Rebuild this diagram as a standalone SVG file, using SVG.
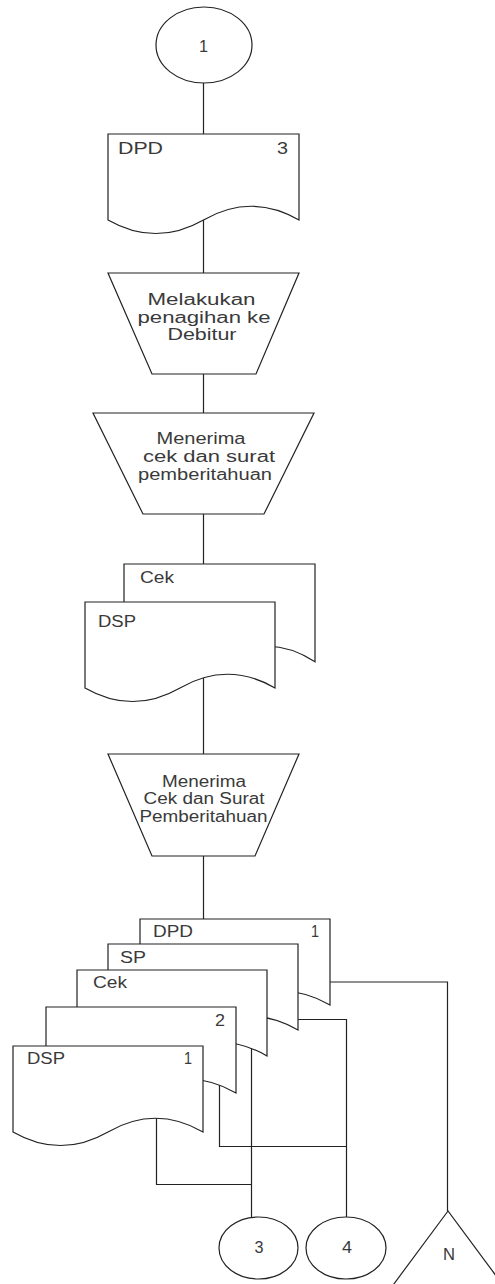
<svg xmlns="http://www.w3.org/2000/svg" width="495" height="1284" viewBox="0 0 495 1284">
<style>
.s{fill:#fff;stroke:#222;stroke-width:1.2}
.c{fill:none;stroke:#222;stroke-width:1.2}
text{font-family:"Liberation Sans",Arial,sans-serif;font-size:16px;fill:#3a3a3a}
.m{text-anchor:middle}
</style>
<rect width="495" height="1284" fill="#fff"/>
<g id="connectors">
<path class="c" d="M203.5,83V134M203.5,220V273M203.5,374V413M203.5,514V564M203.5,678V754M203.5,856V919"/>
<path class="c" d="M330,982H447.5V1211"/>
<path class="c" d="M298,1019.5H346.5V1217"/>
<path class="c" d="M219.5,1085V1146.5H346.5"/>
<path class="c" d="M251.5,1048V1217.6"/>
<path class="c" d="M156.5,1118V1184.5H251.5"/>
</g>
<g id="start1"><ellipse class="s" cx="204" cy="45" rx="48" ry="38"/><text class="m" x="203.5" y="52" textLength="9" lengthAdjust="spacingAndGlyphs">1</text></g>
<g id="docDPD3"><path class="s" d="M108,134H299V219.9Q251.3,192.6 203.5,219.9Q155.8,247.1 108,219.9Z"/><text x="118" y="154" textLength="45" lengthAdjust="spacingAndGlyphs">DPD</text><text x="277" y="154" textLength="11" lengthAdjust="spacingAndGlyphs">3</text></g>
<g id="manual1"><path class="s" d="M108,273H299L256,374H152Z"/><text class="m" x="201.5" y="305" textLength="108" lengthAdjust="spacingAndGlyphs">Melakukan</text><text class="m" x="204" y="323" textLength="133" lengthAdjust="spacingAndGlyphs">penagihan ke</text><text class="m" x="202" y="340" textLength="69" lengthAdjust="spacingAndGlyphs">Debitur</text></g>
<g id="manual2"><path class="s" d="M93,413H314L264,514H143Z"/><text class="m" x="201" y="444" textLength="89" lengthAdjust="spacingAndGlyphs">Menerima</text><text class="m" x="209" y="462" textLength="132" lengthAdjust="spacingAndGlyphs">cek dan surat</text><text class="m" x="205" y="480" textLength="134" lengthAdjust="spacingAndGlyphs">pemberitahuan</text></g>
<g id="docCek1"><path class="s" d="M124,564H315V661.8Q267.3,630.7 219.5,661.8Q171.8,692.8 124,661.8Z"/><text x="140" y="583" textLength="34" lengthAdjust="spacingAndGlyphs">Cek</text></g>
<g id="docDSP1"><path class="s" d="M85,602H275V687.9Q227.5,660.6 180,687.9Q132.5,715.1 85,687.9Z"/><text x="98" y="627" textLength="38" lengthAdjust="spacingAndGlyphs">DSP</text></g>
<g id="manual3"><path class="s" d="M108,754H299L255,856H152Z"/><text class="m" x="204" y="787" textLength="84" lengthAdjust="spacingAndGlyphs">Menerima</text><text class="m" x="204" y="804" textLength="121" lengthAdjust="spacingAndGlyphs">Cek dan Surat</text><text class="m" x="203.5" y="822" textLength="128" lengthAdjust="spacingAndGlyphs">Pemberitahuan</text></g>
<g id="docDPD1"><path class="s" d="M140,919H330V1004.9Q282.5,977.6 235,1004.9Q187.5,1032.1 140,1004.9Z"/><text x="153" y="937" textLength="40" lengthAdjust="spacingAndGlyphs">DPD</text><text x="311" y="937" textLength="8" lengthAdjust="spacingAndGlyphs">1</text></g>
<g id="docSP"><path class="s" d="M108,944H298V1029.9Q250.5,1002.6 203,1029.9Q155.5,1057.1 108,1029.9Z"/><text x="120" y="963" textLength="26" lengthAdjust="spacingAndGlyphs">SP</text></g>
<g id="docCek2"><path class="s" d="M77,970H267V1055.9Q219.5,1028.6 172,1055.9Q124.5,1083.1 77,1055.9Z"/><text x="93" y="988" textLength="34" lengthAdjust="spacingAndGlyphs">Cek</text></g>
<g id="doc2"><path class="s" d="M46,1007H236V1092.9Q188.5,1065.6 141,1092.9Q93.5,1120.1 46,1092.9Z"/><text x="215" y="1026" textLength="10" lengthAdjust="spacingAndGlyphs">2</text></g>
<g id="docDSP2"><path class="s" d="M13,1046H203V1131.9Q155.5,1104.6 108,1131.9Q60.5,1159.1 13,1131.9Z"/><text x="27" y="1064" textLength="38" lengthAdjust="spacingAndGlyphs">DSP</text><text x="184" y="1064" textLength="8" lengthAdjust="spacingAndGlyphs">1</text></g>
<g id="conn3"><ellipse class="s" cx="258.5" cy="1248" rx="39.5" ry="31"/><text class="m" x="259" y="1253" textLength="9" lengthAdjust="spacingAndGlyphs">3</text></g>
<g id="conn4"><ellipse class="s" cx="346" cy="1248" rx="40" ry="31"/><text class="m" x="347" y="1253" textLength="10" lengthAdjust="spacingAndGlyphs">4</text></g>
<g id="archiveN"><path class="s" d="M448,1211L382,1300H514Z"/><text class="m" x="449" y="1260" textLength="12" lengthAdjust="spacingAndGlyphs">N</text></g>
</svg>
